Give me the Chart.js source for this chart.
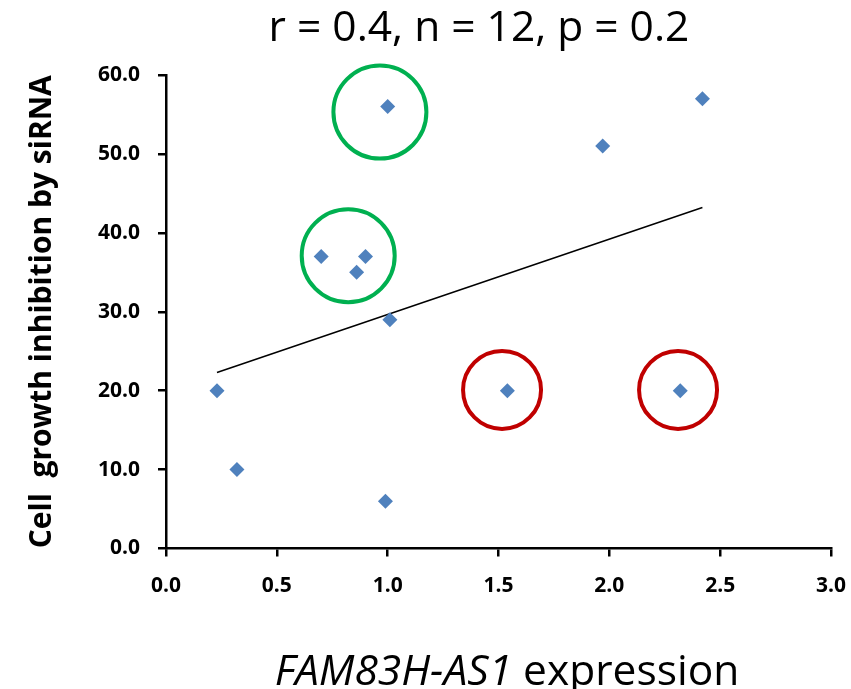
<!DOCTYPE html>
<html>
<head>
<meta charset="utf-8">
<script src="https://cdn.jsdelivr.net/npm/chart.js@4/dist/chart.umd.min.js"></script>
<style>
    html, body { margin: 0; background: #fff; overflow: hidden; }
    .wrap { position: relative; width: 851px; height: 689px; }
    .wrap canvas { display: block; }
    .chart-title, .x-title {
        position: absolute;
        transform: translateX(-50%);
        font-family: "Open Sans", sans-serif;
        color: #000;
        white-space: nowrap;
    }
    .chart-title {
        left: 479px;
        top: 4px;
        font-size: 42.5px;
        line-height: 42.5px;
    }
    .x-title {
        left: 507px;
        top: 648px;
        font-size: 42.5px;
        line-height: 42.5px;
    }
</style>
</head>
<body>
<div class="wrap">
    <canvas id="scatter-chart"></canvas>
    <div class="chart-title">r = 0.4, n = 12, p = 0.2</div>
    <div class="x-title"><i>FAM83H-AS1</i> expression</div>
</div>
<script>
// expression vs. growth inhibition
const expression = [1.0, 0.70, 0.90, 0.86, 1.01, 0.23, 0.32, 0.99, 1.54, 2.32, 1.97, 2.42];
const inhibition = [56, 37, 37, 35, 29, 20, 10, 6, 20, 20, 51, 57];

// linear trendline end points
const trendX = [0.23, 2.42];
const trendY = [22.3, 43.2];

// highlighted groups
const greenX = [0.965, 0.822];
const greenY = [55.3, 37.1];
const redX = [1.516, 2.31];
const redY = [20.1, 20.1];

const xTicks = [0, 0.5, 1.0, 1.5, 2.0, 2.5, 3.0];
const yTicks = [0, 10, 20, 30, 40, 50, 60];

const toPoints = (xs, ys) => xs.map((x, i) => ({ x, y: ys[i] }));

const ctx = document.getElementById('scatter-chart').getContext('2d');

new Chart(ctx, {
    type: 'scatter',
    data: {
        datasets: [
            {
                label: 'samples',
                data: toPoints(expression, inhibition),
                pointStyle: 'rectRot',
                pointRadius: 7.5,
                backgroundColor: '#4F81BD',
                borderColor: '#4F81BD',
                borderWidth: 0,
                order: 0
            },
            {
                label: 'green',
                data: toPoints(greenX, greenY),
                pointStyle: 'circle',
                pointRadius: 46.5,
                backgroundColor: 'rgba(0,0,0,0)',
                borderColor: '#00B050',
                borderWidth: 4,
                clip: false,
                order: 1
            },
            {
                label: 'red',
                data: toPoints(redX, redY),
                pointStyle: 'circle',
                pointRadius: 39,
                backgroundColor: 'rgba(0,0,0,0)',
                borderColor: '#C00000',
                borderWidth: 4,
                clip: false,
                order: 1
            },
            {
                label: 'trend',
                data: toPoints(trendX, trendY),
                showLine: true,
                pointRadius: 0,
                borderColor: '#000',
                borderWidth: 1.5,
                order: 2
            }
        ]
    },
    options: {
        responsive: true,
        maintainAspectRatio: false,
        animation: false,
        events: [],
        layout: { autoPadding: false, padding: { left: 0, right: 20, top: 75, bottom: 0 } },
        plugins: {
            legend: { display: false },
            tooltip: { enabled: false },
            title: { display: false }
        },
        scales: {
            x: {
                type: 'linear',
                min: 0,
                max: 3,
                afterBuildTicks: (scale) => { scale.ticks = xTicks.map(v => ({ value: v })); },
                afterFit: (scale) => {
                    scale.height = 140.5;
                    scale.paddingLeft = 0;
                    scale.paddingRight = 0;
                },
                ticks: {
                    color: '#000',
                    padding: 17,
                    maxRotation: 0,
                    font: { family: 'Open Sans', size: 21, weight: 'bold' },
                    callback: (v) => Number(v).toFixed(1)
                },
                grid: {
                    drawOnChartArea: false,
                    drawTicks: true,
                    tickLength: 8,
                    color: '#000',
                    lineWidth: 2.5
                },
                border: { display: true, color: '#000', width: 2.5 }
            },
            y: {
                type: 'linear',
                min: 0,
                max: 60,
                afterBuildTicks: (scale) => { scale.ticks = yTicks.map(v => ({ value: v })); },
                afterFit: (scale) => {
                    scale.width = 166;
                    scale.paddingTop = 0;
                    scale.paddingBottom = 0;
                },
                ticks: {
                    color: '#000',
                    padding: 18,
                    font: { family: 'Open Sans', size: 21, weight: 'bold' },
                    callback: (v) => Number(v).toFixed(1)
                },
                grid: {
                    drawOnChartArea: false,
                    drawTicks: true,
                    tickLength: 8,
                    color: '#000',
                    lineWidth: 2.5
                },
                border: { display: true, color: '#000', width: 2.5 },
                title: {
                    display: true,
                    text: 'Cell  growth inhibition by siRNA',
                    color: '#000',
                    font: { family: 'Open Sans', size: 30, weight: 'bold', lineHeight: 1.2 },
                    padding: { top: 24, bottom: 0 }
                }
            }
        }
    }
});
</script>
</body>
</html>
